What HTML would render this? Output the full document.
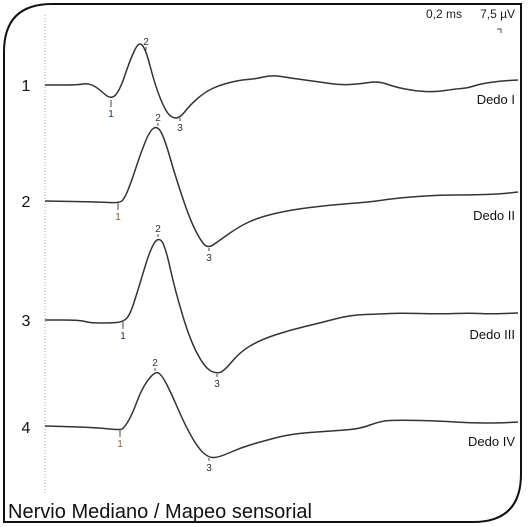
<!DOCTYPE html>
<html><head><meta charset="utf-8"><style>
html,body{margin:0;padding:0;background:#fff;}
svg{display:block;font-family:"Liberation Sans",sans-serif;}
</style></head><body>
<svg id="c" width="529" height="527" viewBox="0 0 529 527">
<path d="M52,4 H521 V474 Q521,522 473,522 H4 V52 Q4,4 52,4 Z" fill="#fff" stroke="#111" stroke-width="2"/>
<line x1="45" y1="15" x2="45" y2="495" stroke="#aaa" stroke-width="1" stroke-dasharray="1,2"/>
<text x="462" y="18" font-size="12" text-anchor="end" fill="#222">0,2 ms</text>
<text x="515" y="18" font-size="12" text-anchor="end" fill="#222">7,5 µV</text>
<path d="M497,29 H501 V33" fill="none" stroke="#444" stroke-width="1"/>
<text x="8" y="518" font-size="20" fill="#111" textLength="304">Nervio Mediano / Mapeo sensorial</text>
<g id="traces"></g>
</svg>
<script>
const traceNames = ["Dedo I","Dedo II","Dedo III","Dedo IV"];
const traceNumbers = ["1","2","3","4"];
const baselines = [85,201,320,427];
const t1 = [0,33,43,53,66,75,85,94,101,110,120,127,135,145,160,175,195,210,227,245,275,295,315,333,350,370,390,410,423,435,455,473];
const v1 = [0,0,2,-3,-15,-5,25,44,35,0,-25,-33,-33,-20,-7,0,5,6,10,7,3,0,1,4,-2,-6,-7,-4,-3,1,4,5];
const t2 = [0,55,73,79,87,95,105,113,120,130,145,157,164,175,195,215,245,285,325,345,365,395,425,455,473];
const v2 = [0,-1,-2,1,21,46,71,75,61,26,-19,-42,-47,-39,-25,-16,-9,-4,-1,2,4,6,6,7,9];
const t3 = [0,35,45,65,78,85,93,105,113,120,130,145,160,172,180,195,215,245,275,305,335,355,395,425,445,473];
const v3 = [0,0,-3,-3,-2,5,30,70,83,75,30,-20,-48,-54,-50,-32,-20,-10,-3,5,6,7,6,7,6,7];
const t4 = [0,35,55,75,79,87,97,110,117,127,140,153,164,175,195,215,245,285,315,335,355,395,425,455,473];
const v4 = [1,0,-1,-3,-1,12,39,56,52,32,2,-21,-31,-30,-21,-15,-7,-4,-2,6,7,6,4,4,5];
const times = [t1,t2,t3,t4];
const values = [v1,v2,v3,v4];
const markerIdx = [[4,8,12],[2,7,12],[4,8,13],[3,7,12]];
const markerLabels = ["1","2","3"];

const x0 = 45;
function xScale(t){ return x0 + t; }
function yScale(v, i){ return baselines[i] - v; }
const g = document.getElementById('traces');
const NS = "http://www.w3.org/2000/svg";
for (let i=0;i<4;i++){
  const ts = times[i], vs = values[i];
  let d = "";
  for (let k=0;k<ts.length;k++){
    const x = xScale(ts[k]), y = yScale(vs[k], i);
    if (k===0) d += "M"+x+","+y;
    else {
      const xp = xScale(ts[k-1]), yp = yScale(vs[k-1], i);
      const xm = (xp+x)/2, ym=(yp+y)/2;
      d += " Q"+xp+","+yp+" "+xm+","+ym;
    }
  }
  d += " L"+xScale(ts[ts.length-1])+","+yScale(vs[vs.length-1], i);
  const p = document.createElementNS(NS,"path");
  p.setAttribute("d", d);
  p.setAttribute("fill","none");
  p.setAttribute("stroke","#333");
  p.setAttribute("stroke-width","1.5");
  
  
  g.appendChild(p);

  const num = document.createElementNS(NS,"text");
  num.setAttribute("x","26"); num.setAttribute("y", baselines[i]+6);
  num.setAttribute("font-size","16"); num.setAttribute("text-anchor","middle"); num.setAttribute("fill","#111");
  num.textContent = traceNumbers[i];
  
  
  g.appendChild(num);

  const nm = document.createElementNS(NS,"text");
  nm.setAttribute("x","515"); nm.setAttribute("y", baselines[i]+19);
  nm.setAttribute("font-size","13"); nm.setAttribute("text-anchor","end"); nm.setAttribute("fill","#111");
  nm.textContent = traceNames[i];
  
  
  g.appendChild(nm);

  for (let m=0;m<3;m++){
    const k = markerIdx[i][m];
    const x = xScale(ts[k]), y = yScale(vs[k], i);
    const tick = document.createElementNS(NS,"line");
    const up = (m===1);
    tick.setAttribute("x1",x); tick.setAttribute("x2",x);
    tick.setAttribute("y1",y); tick.setAttribute("y2", up ? y-3 : (m===0 ? y+7 : y+3));
    tick.setAttribute("stroke","#444"); tick.setAttribute("stroke-width","1");
    
    
    g.appendChild(tick);
    const lb = document.createElementNS(NS,"text");
    lb.setAttribute("x",x); lb.setAttribute("y", up ? y-5 : (m===0 ? y+17 : y+13));
    lb.setAttribute("font-size","10"); lb.setAttribute("text-anchor","middle");
    lb.setAttribute("fill", (m===0 && (i===1||i===3)) ? "#8a5a20" : (m===0 ? "#234" : "#333"));
    lb.textContent = markerLabels[m];
    
    
    g.appendChild(lb);
  }
}
</script>
</body></html>
